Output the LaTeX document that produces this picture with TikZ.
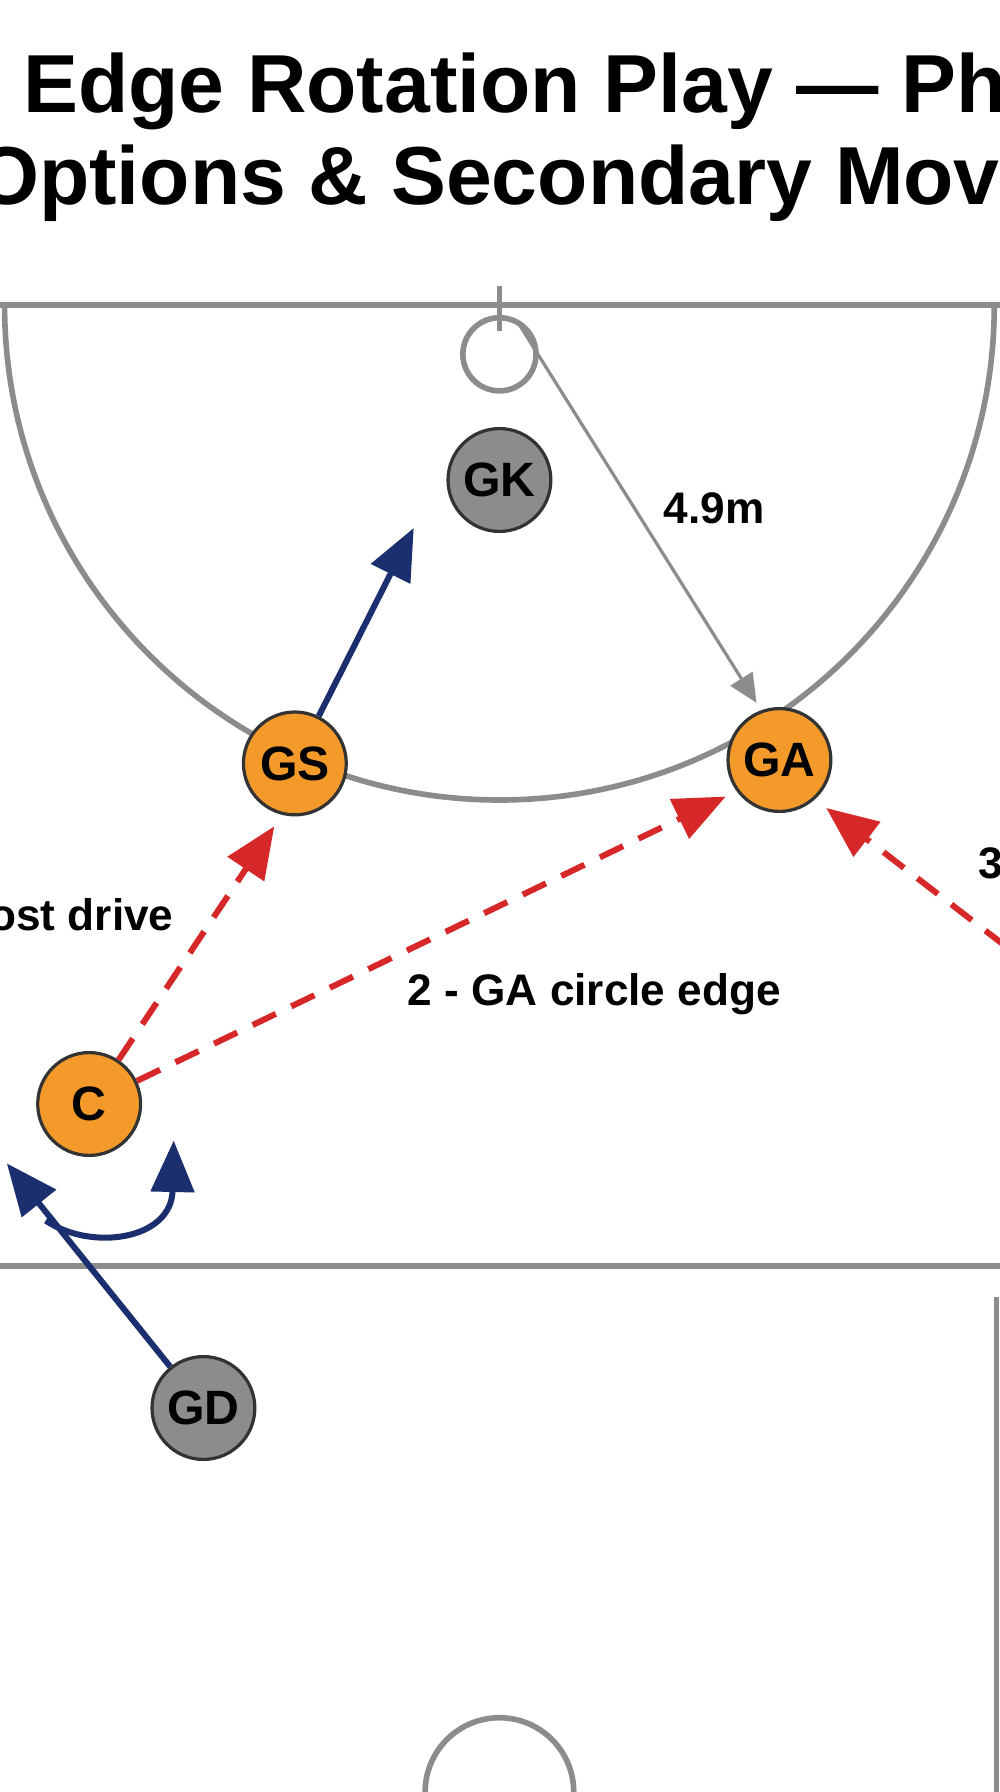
\documentclass[tikz,border=0pt]{standalone}
\usepackage{fontspec}
\setmainfont{Liberation Sans}
\usetikzlibrary{arrows.meta}
\definecolor{org}{HTML}{F39A2B}
\definecolor{crt}{HTML}{8C8C8C}
\definecolor{nvy}{HTML}{1B2F6E}
\definecolor{rd}{HTML}{D62828}
\tikzset{
 court/.style={draw=crt,line width=2.8pt},
 player/.style={circle,draw=black!80,line width=1.6pt,minimum size=1.8cm,inner sep=0pt,font=\fontsize{24}{24}\bfseries},
 att/.style={player,fill=org},
 def/.style={player,fill=crt},
 run/.style={draw=nvy,line width=3pt,-{Triangle[length=0.9cm,width=0.75cm]}},
 pass/.style={draw=rd,line width=3pt,dash pattern=on 0.45cm off 0.3cm,-{Triangle[length=0.9cm,width=0.75cm]}},
 lab/.style={font=\fontsize{22}{22}\bfseries},
}
\begin{document}
\begin{tikzpicture}[x=0.02cm,y=-0.02cm]
\useasboundingbox[fill=white] (0,0) rectangle (875,1568);
\node[anchor=west,font=\fontsize{41}{41}\bfseries] at (14,80) {Edge Rotation Play — Phase};
\node[anchor=west,font=\fontsize{41}{41}\bfseries] at (-28,160) {Options \& Secondary Moves};
% court
\draw[court] (0,267) -- (875,267);
\draw[court] (437,250) -- (437,290);
\draw[court] (437,310) circle (32);
\draw[court] (4,267) arc[start angle=180,end angle=0,radius=433];
\draw[court] (0,1108) -- (875,1108);
\draw[court] (872,1135) -- (872,1568);
\draw[court] (437,1568) circle (65);
% players
\node[def] (GK) at (437,420) {GK};
\node[att] (GS) at (258,668) {GS};
\node[att] (GA) at (682,665) {GA};
\node[att] (C) at (78,966) {C};
\node[def] (GD) at (178,1232) {GD};
\coordinate (gkt) at (362,462);
\coordinate (pst) at (455,285);
\coordinate (gat) at (662,615);
\coordinate (p1) at (240,723);
\coordinate (p2) at (635,697);
\coordinate (p3s) at (880,828);
\coordinate (p3) at (723,707);
\coordinate (gdt) at (6,1018);
\coordinate (cs) at (40,1068);
\coordinate (ce) at (152,998);
% connectors
\draw[draw=crt,line width=1.6pt,-{Triangle[length=0.5cm,width=0.45cm]}] (pst) -- (gat);
\node[lab] (d) at (625,445) {4.9m};
\draw[run] (GS) -- (gkt);
\draw[pass] (C) -- (p1);
\draw[pass] (C) -- (p2);
\draw[pass] (p3s) -- (p3);
\draw[run] (GD) -- (gdt);
\draw[run] (cs) .. controls (80,1095) and (150,1085) .. (ce);
\node[lab,anchor=east] (l1) at (158,800) {1 - Post drive};
\node[lab] (l2) at (520,870) {2 - GA circle edge};
\node[lab,anchor=west] (l3) at (850,755) {3 - Back};
\end{tikzpicture}
\end{document}
